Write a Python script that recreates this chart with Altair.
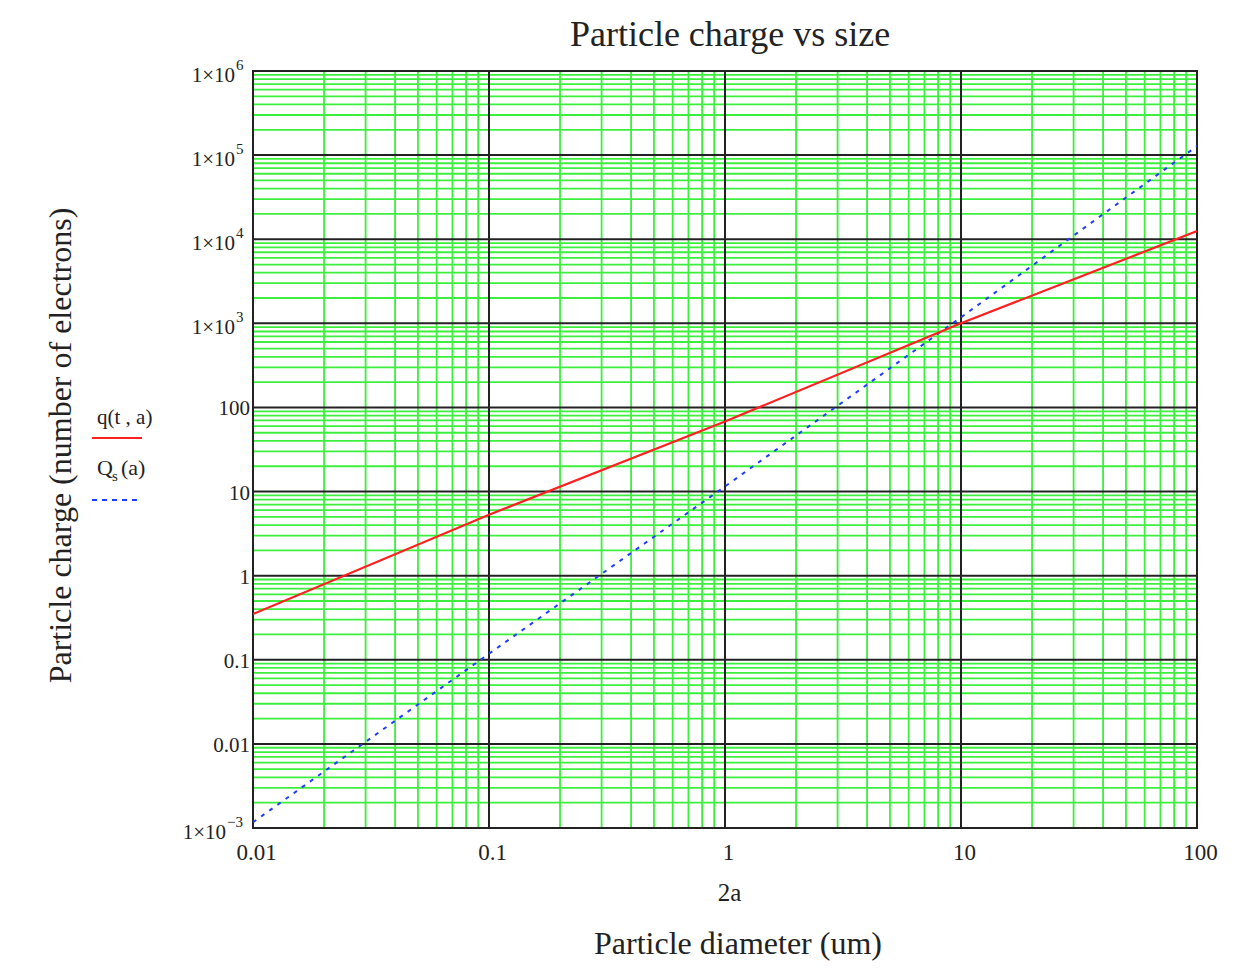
import altair as alt
import pandas as pd

# ---- data ----
diam = [0.01, 0.1, 1, 10, 100]
q_vals = [0.35, 5.3, 68, 1000, 12500]          # q(t,a)
qs_vals = [0.00117, 0.118, 11.5, 1180, 128000]  # Qs(a)

x_major = [0.01, 0.1, 1, 10, 100]
x_labels = ["0.01", "0.1", "1", "10", "100"]
y_major = [1e-3, 1e-2, 0.1, 1, 10, 100, 1e3, 1e4, 1e5, 1e6]

# y tick labels: plain ones, and "1×10^n" ones (base + exponent)
y_plain_vals = [1e-2, 0.1, 1, 10, 100]
y_plain_labels = ["0.01", "0.1", "1", "10", "100"]
y_pos_vals = [1e3, 1e4, 1e5, 1e6]
y_pos_exp = ["3", "4", "5", "6"]
y_neg_vals = [1e-3]
y_neg_exp = ["\u22123"]
y_base = "1×10"

x_minor = [k * 10.0 ** e for e in range(-2, 2) for k in range(2, 10)]
y_minor = [k * 10.0 ** e for e in range(-3, 6) for k in range(2, 10)]

FONT = "Liberation Serif"
INK = "#222"
W, H = 944, 757

xscale = alt.Scale(type="log", domain=[0.01, 100], nice=False)
yscale = alt.Scale(type="log", domain=[1e-3, 1e6], nice=False)

def arr(v):
    return "[" + ",".join(repr(s) if isinstance(s, str) else repr(float(s)) for s in v) + "]"

x_axis = alt.Axis(
    values=x_major, grid=False, ticks=False, domain=False,
    labelExpr=f"{arr(x_labels)}[indexof({arr(x_major)}, datum.value)]",
    labelFont=FONT, labelFontSize=23, labelColor=INK, labelPadding=13, labelOffset=3,
    labelFlush=False, labelOverlap=False,
    title="2a", titleFont=FONT, titleFontSize=25, titleFontWeight="normal", titleColor=INK,
    titleX=476, titleY=64, titleBaseline="middle",
)
y_axis = alt.Axis(
    values=y_major, grid=False, ticks=False, domain=False, labels=False,
    title="Particle charge (number of electrons)", titleFont=FONT, titleFontSize=32,
    titleFontWeight="normal", titleColor=INK, titleX=-193, titleY=374,
    titleBaseline="middle", titleAngle=-90, titleAlign="center",
)

def X(field):
    return alt.X(f"{field}:Q", scale=xscale, axis=x_axis)

def Y(field):
    return alt.Y(f"{field}:Q", scale=yscale, axis=y_axis)

green = "#3cef3c"

vgrid_minor = alt.Chart(pd.DataFrame({"gx": x_minor})).mark_rule(
    color=green, strokeWidth=1.8).encode(x=X("gx"))
hgrid_minor = alt.Chart(pd.DataFrame({"gy": y_minor})).mark_rule(
    color=green, strokeWidth=1.8).encode(y=Y("gy"))
vgrid_major = alt.Chart(pd.DataFrame({"gx": x_major})).mark_rule(
    color=INK, strokeWidth=2).encode(x=X("gx"))
hgrid_major = alt.Chart(pd.DataFrame({"gy": y_major})).mark_rule(
    color=INK, strokeWidth=2).encode(y=Y("gy"))

df_q = pd.DataFrame({"d": diam, "v": q_vals})
df_qs = pd.DataFrame({"d": diam, "v": qs_vals})

line_qs = alt.Chart(df_qs).mark_line(
    color="#1f3dff", strokeWidth=2, strokeDash=[4, 6], clip=True).encode(x=X("d"), y=Y("v"))
line_q = alt.Chart(df_q).mark_line(
    color="#ff2020", strokeWidth=2.2, clip=True).encode(x=X("d"), y=Y("v"))

# ---- y tick labels as text marks (to get real-size exponents) ----
def ylab(vals, texts, x, size, align, dy):
    return alt.Chart(pd.DataFrame({"yv": vals, "t": texts})).mark_text(
        font=FONT, fontSize=size, color=INK, align=align, baseline="middle", dy=dy
    ).encode(y=Y("yv"), x=alt.value(x), text="t:N")

lab_plain = ylab(y_plain_vals, y_plain_labels, -3, 21, "right", 2)
lab_pos_base = ylab(y_pos_vals, [y_base] * len(y_pos_vals), -18, 21, "right", 5)
lab_pos_exp = ylab(y_pos_vals, y_pos_exp, -17, 15, "left", -6)
lab_neg_base = ylab(y_neg_vals, [y_base] * len(y_neg_vals), -27, 21, "right", 5)
lab_neg_exp = ylab(y_neg_vals, y_neg_exp, -26, 15, "left", -6)

# ---- annotations (title, lower axis title, legend) ----
def txt(s, x, y, size, align="center", baseline="middle"):
    return alt.Chart(pd.DataFrame({"t": [s]})).mark_text(
        font=FONT, fontSize=size, color=INK, align=align, baseline=baseline
    ).encode(text="t:N", x=alt.value(x), y=alt.value(y))

title = txt("Particle charge vs size", 477, -36, 36)
xtitle = txt("Particle diameter (um)", 485, 873, 32)
leg_q = txt("q(t , a)", -156, 347, 21, align="left")
leg_Q = txt("Q", -156, 397, 22, align="left")
leg_s = txt("s", -141, 405, 15, align="left")
leg_a = txt("(a)", -132, 397, 22, align="left")

leg_line_q = alt.Chart(pd.DataFrame({"k": [0]})).mark_rule(
    color="#ff2020", strokeWidth=2).encode(x=alt.value(-161), x2=alt.value(-111), y=alt.value(367))
leg_line_qs = alt.Chart(pd.DataFrame({"k": [0]})).mark_rule(
    color="#1f3dff", strokeWidth=2, strokeDash=[5, 5]).encode(
    x=alt.value(-161), x2=alt.value(-111), y=alt.value(429))

chart = alt.layer(
    vgrid_minor, hgrid_minor, vgrid_major, hgrid_major, line_qs, line_q,
    lab_plain, lab_pos_base, lab_pos_exp, lab_neg_base, lab_neg_exp,
    title, xtitle, leg_q, leg_Q, leg_s, leg_a, leg_line_q, leg_line_qs,
).properties(
    width=W, height=H,
    autosize=alt.AutoSizeParams(type="none"),
    padding={"left": 245, "top": 63, "right": 38, "bottom": 134},
    background="white",
).configure_view(stroke=INK, strokeWidth=2)

chart.save("out.html", embed_options={"renderer": "svg", "actions": False})
